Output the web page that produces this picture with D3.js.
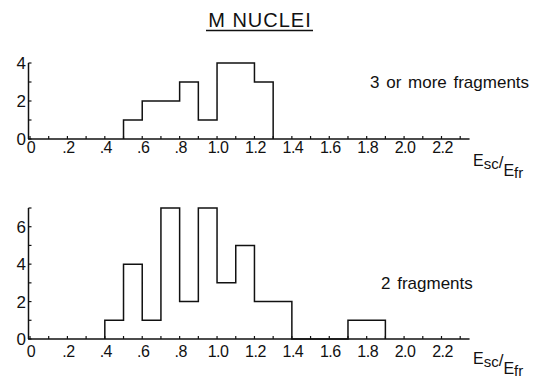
<!DOCTYPE html>
<html>
<head>
<meta charset="utf-8">
<script src="https://cdn.jsdelivr.net/npm/d3@7"></script>
<style>
  body { margin: 0; background: #fff; }
  svg text { font-family: "Liberation Sans", Arial, sans-serif; fill: #111; }
</style>
</head>
<body>
<svg id="chart" width="537" height="378"></svg>
<script>
// histogram bins (lower edge, width 0.1) and counts
var topLo = [0.5, 0.6, 0.7, 0.8, 0.9, 1.0, 1.1, 1.2];
var topCounts = [1, 2, 2, 3, 1, 4, 4, 3];
var bottomLo = [0.4, 0.5, 0.6, 0.7, 0.8, 0.9, 1.0, 1.1, 1.2, 1.3, 1.4, 1.5, 1.6, 1.7, 1.8];
var bottomCounts = [1, 4, 1, 7, 2, 7, 3, 5, 2, 2, 0, 0, 0, 1, 1];
var binWidth = 0.1;

var xTickLabels = ["0", ".2", ".4", ".6", ".8", "1.0", "1.2", "1.4", "1.6", "1.8", "2.0", "2.2"];
var xTickValues = [0, 0.2, 0.4, 0.6, 0.8, 1.0, 1.2, 1.4, 1.6, 1.8, 2.0, 2.2];
var topYLabels = [0, 2, 4];
var bottomYLabels = [0, 2, 4, 6];

var svg = d3.select("#chart");

var x = d3.scaleLinear().domain([0, 2.2]).range([30, 441.5]);

var panels = [
  { lo: topLo, counts: topCounts, yMax: 4, y0: 139, y1: 63, yLabels: topYLabels, tickDy: 14,
    label: "3 or more fragments", labelX: 370, labelY: 88, unitY: 166 },
  { lo: bottomLo, counts: bottomCounts, yMax: 7, y0: 339, y1: 208, yLabels: bottomYLabels, tickDy: 18,
    label: "2 fragments", labelX: 381, labelY: 289, unitY: 364 }
];

// title
svg.append("text")
  .attr("x", 260).attr("y", 27)
  .attr("text-anchor", "middle")
  .style("font-size", "20px")
  .style("letter-spacing", "1px")
  .text("M NUCLEI");
svg.append("line")
  .attr("x1", 206).attr("x2", 313)
  .attr("y1", 30.5).attr("y2", 30.5)
  .attr("stroke", "#111").attr("stroke-width", 1.6);

panels.forEach(function(p) {
  var y = d3.scaleLinear().domain([0, p.yMax]).range([p.y0, p.y1]);
  var g = svg.append("g");

  // axes lines
  g.append("line")
    .attr("x1", x(0) - 2).attr("x2", x(2.35))
    .attr("y1", y(0)).attr("y2", y(0))
    .attr("stroke", "#111").attr("stroke-width", 1.5);
  g.append("line")
    .attr("x1", x(0) - 1.5).attr("x2", x(0) - 1.5)
    .attr("y1", y(0)).attr("y2", y(p.yMax))
    .attr("stroke", "#111").attr("stroke-width", 1.5);

  // x ticks every 0.1
  g.selectAll(".xt")
    .data(d3.range(0, 24))
    .enter().append("line")
    .attr("x1", function(d) { return x(d / 10); })
    .attr("x2", function(d) { return x(d / 10); })
    .attr("y1", y(0)).attr("y2", y(0) - 3)
    .attr("stroke", "#111").attr("stroke-width", 1.2);

  // y ticks every 1
  g.selectAll(".yt")
    .data(d3.range(0, p.yMax + 1))
    .enter().append("line")
    .attr("x1", x(0) - 1.5).attr("x2", x(0) + 1.5)
    .attr("y1", function(d) { return y(d); })
    .attr("y2", function(d) { return y(d); })
    .attr("stroke", "#111").attr("stroke-width", 1.2);

  g.selectAll(".xl")
    .data(xTickValues)
    .enter().append("text")
    .attr("x", function(d) { return x(d) + 1; })
    .attr("y", y(0) + p.tickDy)
    .attr("text-anchor", "middle")
    .style("font-size", "16px")
    .style("letter-spacing", "-0.5px")
    .text(function(d, i) { return xTickLabels[i]; });

  g.selectAll(".yl")
    .data(p.yLabels)
    .enter().append("text")
    .attr("x", x(0) - 4)
    .attr("y", function(d) { return y(d) + 6; })
    .attr("text-anchor", "end")
    .style("font-size", "17px")
    .text(function(d) { return d; });

  // step outline of histogram
  var pts = [[x(p.lo[0]), y(0)]];
  p.lo.forEach(function(lo, i) {
    pts.push([x(lo), y(p.counts[i])]);
    pts.push([x(lo + binWidth), y(p.counts[i])]);
  });
  pts.push([x(p.lo[p.lo.length - 1] + binWidth), y(0)]);
  g.append("path")
    .attr("d", d3.line()(pts))
    .attr("fill", "none")
    .attr("stroke", "#111")
    .attr("stroke-width", 1.5);

  g.append("text")
    .attr("x", p.labelX).attr("y", p.labelY)
    .style("font-size", "17px")
    .style("word-spacing", "2px")
    .text(p.label);

  // Esc/Efr unit label
  var u = g.append("text")
    .attr("x", 473).attr("y", p.unitY)
    .style("font-size", "16px");
  u.append("tspan").text("E");
  u.append("tspan").attr("dy", 3).style("font-size", "15px").text("sc");
  u.append("tspan").attr("dy", -1).style("font-size", "17px").text("/");
  u.append("tspan").attr("dy", 8).text("E");
  u.append("tspan").attr("dy", 2).style("font-size", "15px").text("fr");
});
</script>
</body>
</html>
